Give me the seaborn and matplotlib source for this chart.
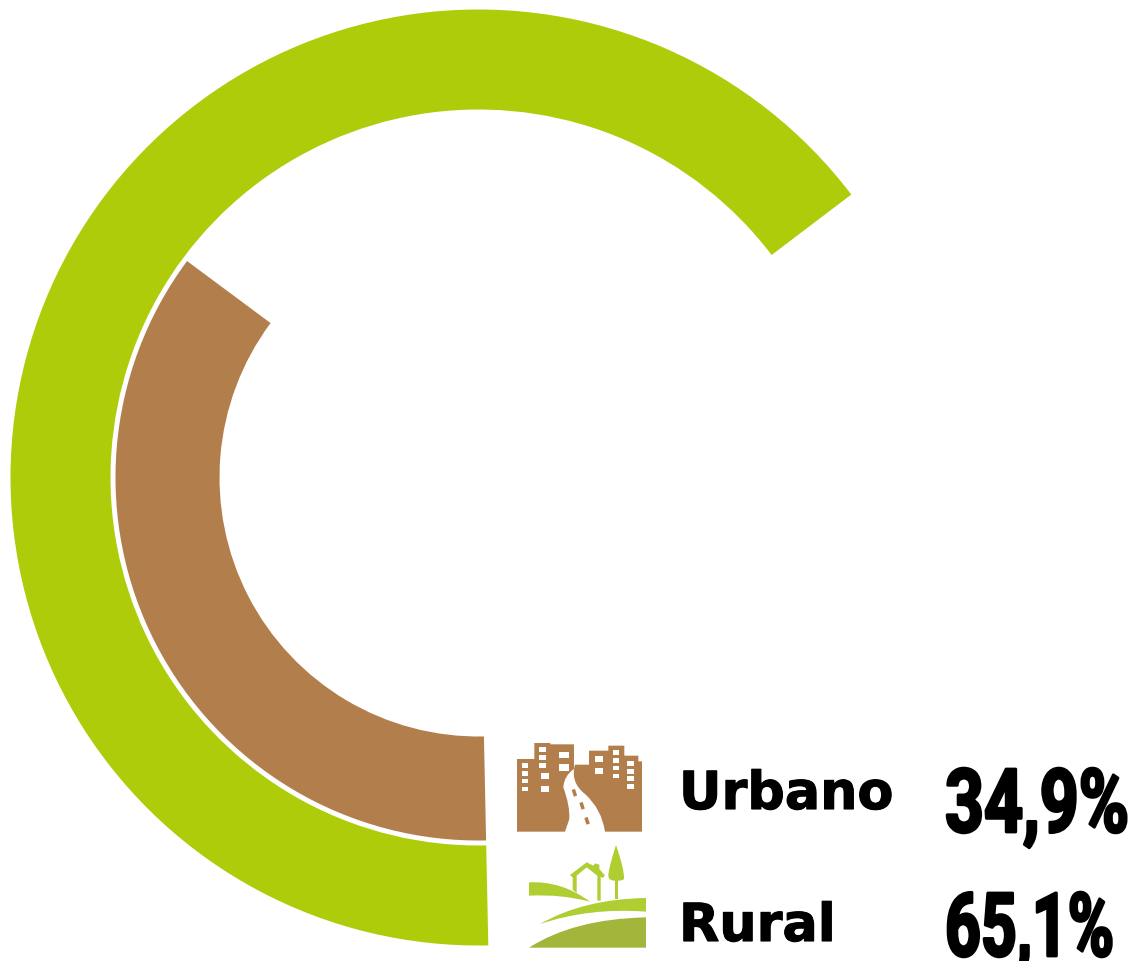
import matplotlib
matplotlib.use("Agg")
import matplotlib.pyplot as plt
import matplotlib.patheffects as pe
from matplotlib.patches import PathPatch, Polygon, Rectangle
from matplotlib.path import Path
from matplotlib.transforms import Affine2D
import seaborn as sns

# Daten
categories = ["Urbano", "Rural"]
value_labels = ["34,9%", "65,1%"]
rural_arc = [65.0, 35.0]
urbano_arc = [35.5, 64.5]
colors = sns.color_palette(["#B27E4B", "#AFCC0A"])
hill_dark = "#A3B53A"
hill_light = "#AECE32"

sns.set_theme(style="white")
fig = plt.figure(figsize=(11.38, 9.62), dpi=100)
ax = fig.add_axes([0, 0, 1, 1])


# Ringe (y-Achse invertiert, also zaehlt "counterclock" hier andersherum)
def ring(values, radius, width, color):
    wedges, _ = ax.pie(values, center=(478.5, 478.5), radius=radius, startangle=88.8,
                       counterclock=True, colors=[color, (1, 1, 1, 0)],
                       wedgeprops={"width": width, "linewidth": 0}, frame=True)
    wedges[1].set_visible(False)


ring(rural_arc, 468, 100, colors[1])
ring(urbano_arc, 363, 104, colors[0])
ax.set_aspect("equal")
ax.set_xlim(0, 1138)
ax.set_ylim(962, 0)
ax.axis("off")


# Symbole: Koordinaten aus dem 3x-Ausschnitt ab (490, 720)
def px(p):
    return (490 + p[0] / 3, 720 + p[1] / 3)


def shape(points, codes, color):
    verts = [px(p) for p in points]
    ax.add_patch(PathPatch(Path(verts, codes), fc=color, ec="none", lw=0))


M, L, C, Z = Path.MOVETO, Path.LINETO, Path.CURVE3, Path.CLOSEPOLY

# Stadt
left_city = [(81, 338), (81, 120), (133, 120), (133, 72), (181, 72), (181, 76), (252, 76), (252, 150),
             (222, 170), (220, 205), (240, 260), (238, 300), (225, 338), (81, 338)]
shape(left_city, [M, L, L, L, L, L, L, L, C, C, C, C, L, Z], colors[0])
right_city = [(345, 338), (335, 270), (285, 225), (240, 190), (255, 137), (297, 137), (297, 95), (355, 95),
              (355, 80), (403, 80), (403, 110), (445, 110), (445, 127), (456, 127), (456, 338), (345, 338)]
shape(right_city, [M, C, C, C, C, L, L, L, L, L, L, L, L, L, L, Z], colors[0])
windows = [(95, 133, 20, 15), (95, 157, 20, 15), (95, 180, 20, 13), (95, 204, 20, 12),
           (147, 85, 21, 15), (147, 108, 21, 14), (147, 132, 21, 14),
           (208, 98, 28, 20), (208, 135, 28, 22), (152, 162, 26, 18), (152, 202, 26, 18),
           (314, 110, 26, 20), (314, 148, 26, 18),
           (369, 93, 18, 15), (369, 117, 18, 14), (369, 140, 18, 14), (369, 164, 18, 13),
           (411, 125, 21, 15), (411, 149, 21, 15), (411, 172, 21, 14), (411, 196, 21, 13)]
for x, y, w, h in windows:
    ax.add_patch(Rectangle(px((x, y)), w / 3, h / 3, fc="white", ec="none"))
for x, y in [(245, 213), (268, 252), (283, 297)]:
    ax.add_patch(Rectangle(px((x, y)), 3.5, 7, fc=colors[0], ec="none", angle=-18))

# Land
shape([(117, 490), (215, 485), (300, 548), (215, 525), (117, 530), (117, 490)], [M, C, C, C, C, Z], hill_light)
house = [(240, 468), (290, 430), (310, 440), (315, 433), (328, 437), (328, 450), (345, 470), (337, 477),
         (332, 473), (332, 545), (322, 545), (322, 470), (290, 445), (260, 470), (260, 522), (248, 512),
         (248, 475)]
ax.add_patch(Polygon([px(p) for p in house], fc=hill_light, ec="none"))
shape([(378, 378), (403, 450), (402, 478), (402, 485), (384, 485), (384, 540), (375, 540), (375, 485),
       (355, 485), (355, 470), (355, 450), (378, 378)], [M, C, C, C, C, L, L, L, C, C, C, C], hill_light)
shape([(150, 615), (280, 540), (468, 537), (468, 578), (300, 565), (150, 615)], [M, C, C, L, C, C], hill_light)
shape([(117, 686), (250, 600), (468, 595), (468, 686), (117, 686)], [M, C, C, L, Z], hill_dark)


# Zahlen in schmaler, hoher Schrift: Text wird vom Grundlinienpunkt aus gestreckt
class StretchY(pe.AbstractPathEffect):
    def __init__(self, base, factor):
        super().__init__()
        self.base = base
        self.factor = factor

    def draw_path(self, renderer, gc, tpath, affine, rgbFace=None):
        stretch = Affine2D().translate(0, -self.base).scale(1, self.factor).translate(0, self.base)
        gc0 = renderer.new_gc()
        gc0.copy_properties(gc)
        gc0.set_foreground("black")
        gc0.set_linewidth(2.0)
        renderer.draw_path(gc0, tpath, affine + stretch, rgbFace)
        gc0.restore()


height = fig.bbox.height
for name, value, base_text, base_val, size in zip(categories, value_labels, [810, 942], [833, 957], [49, 45]):
    ax.text(679, base_text, name, fontsize=37.7, fontweight="bold", family="DejaVu Sans",
            color="black", ha="left", va="baseline",
            path_effects=[pe.withStroke(linewidth=0.8, foreground="black")])
    factor = 63 / (0.711 * size * 100 / 72)
    ax.text(945, base_val, value, fontsize=size, fontweight="bold", family=["Roboto", "DejaVu Sans"],
            color="black", ha="left", va="baseline",
            path_effects=[StretchY(height - base_val, factor)])

fig.savefig("out.png", dpi=100)
